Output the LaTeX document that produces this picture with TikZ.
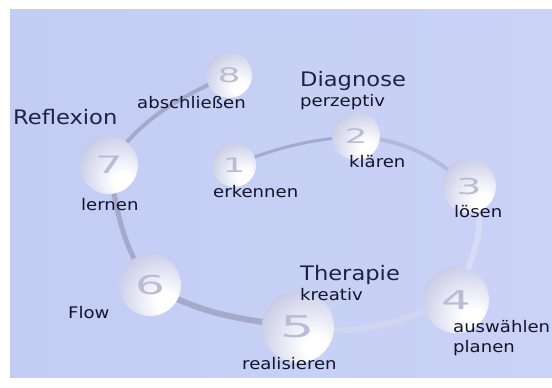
\documentclass[tikz,border=0pt]{standalone}
\usepackage{graphicx}
\usepackage{fontspec}
\setmainfont{DejaVu Sans}[FakeStretch=1.13]
\newfontfamily\digitfont{DejaVu Sans}
\definecolor{bgL}{HTML}{C3CDF4}
\definecolor{bgR}{HTML}{CAD3F6}
\definecolor{sphedge}{HTML}{BCC0DE}
\definecolor{sphmid}{HTML}{E0E2F2}
\definecolor{digc}{HTML}{B9BCD4}
\definecolor{ringA}{HTML}{A6AACA}
\definecolor{ringB}{HTML}{B6BADA}
\definecolor{ringC}{HTML}{D6DCF6}
\definecolor{headc}{HTML}{1E2248}
\definecolor{labc}{HTML}{14142A}
\pgfdeclareradialshading{sph}{\pgfpoint{14bp}{-16bp}}{color(0bp)=(white); color(8bp)=(white); color(24bp)=(sphmid); color(42bp)=(sphedge); color(72bp)=(sphedge)}
\newcommand\dig[2]{\scalebox{1.8}[1]{\digitfont\fontsize{#2}{#2}\selectfont\color{digc}#1}}
\tikzset{
  sphere/.style={circle, shading=sph, minimum size=#1, inner sep=0pt},
  ring/.style={line cap=round},
  lab/.style={anchor=base west, inner sep=0pt, text=labc, font=\fontsize{16}{18}\selectfont},
  head/.style={anchor=base west, inner sep=0pt, text=headc, font=\fontsize{20}{22}\selectfont}
}
\begin{document}
\begin{tikzpicture}[x=1pt,y=1pt]
\useasboundingbox (0,0) rectangle (552,388);
\shade[left color=bgL, right color=bgR] (10,10) rectangle (552,378);
% sphere positions
\coordinate (p1) at (234,223);
\coordinate (p2) at (356,252);
\coordinate (p3) at (469,202);
\coordinate (p4) at (456,88);
\coordinate (p5) at (298,61);
\coordinate (p6) at (150,103);
\coordinate (p7) at (109,223);
\coordinate (p8) at (229,313);
% ring
\draw[ring, ringA, line width=3pt] (p1) to[out=22,in=185] (p2);
\draw[ring, ringB, line width=4pt] (p2) to[out=-5,in=140] (p3);
\draw[ring, ringC, line width=6pt] (p3) to[out=-60,in=70] (p4);
\draw[ring, ringC!80!ringB, line width=6pt] (p4) to[out=200,in=-10] (p5);
\draw[ring, ringA, line width=6pt] (p5) to[out=172,in=-30] (p6);
\draw[ring, ringA, line width=5pt] (p6) to[out=125,in=-80] (p7);
\draw[ring, ringA, line width=4pt] (p7) to[out=55,in=-155] (p8);
% spheres
\node[sphere=44pt] (s1) at (p1) {\dig{1}{20}};
\node[sphere=48pt] (s2) at (p2) {\dig{2}{20}};
\node[sphere=54pt] (s3) at (p3) {\dig{3}{22}};
\node[sphere=66pt] (s4) at (p4) {\dig{4}{26}};
\node[sphere=72pt] (s5) at (p5) {\dig{5}{30}};
\node[sphere=62pt] (s6) at (p6) {\dig{6}{26}};
\node[sphere=58pt] (s7) at (p7) {\dig{7}{24}};
\node[sphere=46pt] (s8) at (p8) {\dig{8}{20}};
% headings
\node[head] (hR) at (13,263) {Reflexion};
\node[head] (hD) at (300,301) {Diagnose};
\node[head] (hT) at (300,107) {Therapie};
% labels
\node[lab] (lP) at (300,281) {perzeptiv};
\node[lab] (lK) at (300,87) {kreativ};
\node[lab] (l8) at (137,279) {abschließen};
\node[lab] (l1) at (213,190) {erkennen};
\node[lab] (l7) at (81,177) {lernen};
\node[lab] (l6) at (68,69) {Flow};
\node[lab] (l5) at (242,18) {realisieren};
\node[lab] (l2) at (349,220) {klären};
\node[lab] (l3) at (454,170) {lösen};
\node[lab] (l4a) at (453,55) {auswählen};
\node[lab] (l4b) at (453,35) {planen};
\end{tikzpicture}
\end{document}
